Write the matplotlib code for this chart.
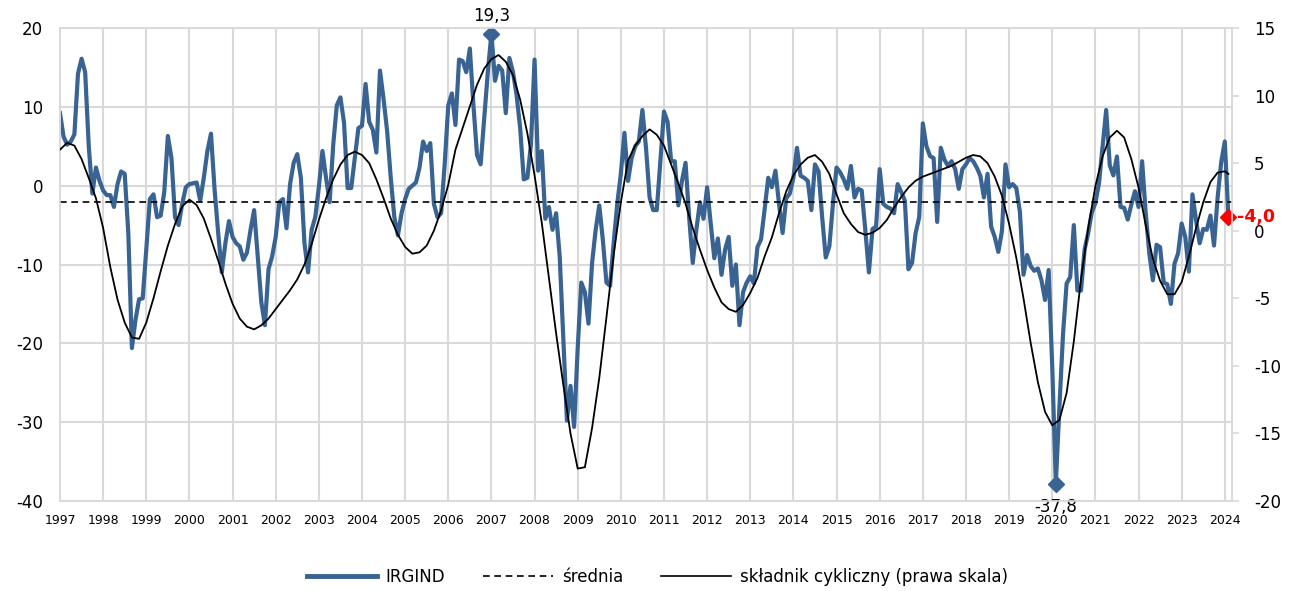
import numpy as np
import matplotlib.pyplot as plt
from matplotlib.lines import Line2D

plt.rcParams['axes.unicode_minus'] = False

# IRGIND, monthly, Jan 1997 - Feb 2024 (left axis)
irgind = [
    9.2, 6.2, 5.2, 5.6, 6.5, 14.2, 16.1, 14.4, 5.0, -1.0, 2.3, 0.6,            # 1997
    -0.6, -1.2, -1.2, -2.7, 0.2, 1.8, 1.5, -6.0, -20.6, -17.0, -14.4, -14.3,   # 1998
    -8.1, -1.7, -1.1, -4.0, -3.8, -0.8, 6.3, 3.5, -4.0, -5.0, -2.3, -0.2,      # 1999
    0.2, 0.3, 0.4, -1.9, 1.0, 4.4, 6.6, -0.5, -6.0, -11.0, -7.3, -4.5,         # 2000
    -6.5, -7.3, -7.7, -9.4, -8.5, -5.6, -3.1, -9.0, -14.8, -17.7, -10.6, -9.0, # 2001
    -6.5, -2.1, -1.7, -5.4, 0.2, 2.9, 4.0, 1.0, -7.3, -11.0, -5.6, -4.0,       # 2002
    -0.2, 4.4, 1.0, -2.1, 5.2, 10.2, 11.2, 8.0, -0.3, -0.3, 3.5, 7.3,          # 2003
    7.6, 12.9, 8.1, 7.1, 4.2, 14.6, 11.0, 6.9, 1.0, -4.0, -6.3, -3.5,          # 2004
    -1.7, -0.4, 0.0, 0.4, 2.3, 5.6, 4.4, 5.4, -2.3, -4.0, -3.5, 2.7,           # 2005
    10.2, 11.7, 7.7, 16.0, 15.8, 14.4, 17.4, 10.2, 3.9, 2.7, 8.5, 14.4,        # 2006
    19.3, 13.3, 15.2, 14.6, 9.2, 16.2, 14.4, 11.5, 7.3, 0.8, 1.0, 5.2,         # 2007
    16.0, 1.9, 4.4, -4.2, -2.7, -5.6, -3.5, -9.0, -19.5, -29.8, -25.4, -30.6,  # 2008
    -20.6, -12.3, -13.5, -17.5, -9.8, -5.6, -2.5, -6.9, -12.3, -12.7, -7.3, -2.3,  # 2009
    1.5, 6.7, 0.6, 3.5, 5.0, 5.6, 9.6, 4.8, -1.5, -3.1, -3.1, 3.1,             # 2010
    9.4, 8.1, 3.1, 3.1, -2.5, 0.6, 2.9, -4.0, -9.8, -5.6, -2.1, -4.2,          # 2011
    -0.2, -4.8, -9.2, -6.7, -11.3, -8.1, -6.5, -12.7, -10.0, -17.7, -13.5, -12.3,  # 2012
    -11.5, -12.4, -7.8, -6.8, -3.0, 1.0, -0.2, 1.9, -2.3, -6.0, -1.6, -1.0,    # 2013
    1.0, 4.8, 1.25, 1.0, 0.6, -3.1, 2.7, 1.8, -4.0, -9.1, -7.7, -2.3,          # 2014
    2.3, 1.7, 0.8, -0.4, 2.5, -1.5, -0.4, -0.6, -5.6, -11.0, -5.5, -5.2,       # 2015
    2.1, -2.3, -2.7, -2.9, -3.5, 0.2, -0.8, -1.9, -10.6, -9.8, -6.0, -4.0,     # 2016
    7.9, 5.0, 3.75, 3.5, -4.6, 4.8, 3.3, 2.5, 3.1, 2.1, -0.4, 2.1,             # 2017
    2.7, 3.5, 3.1, 2.3, 1.25, -1.5, 1.5, -5.2, -6.5, -8.4, -5.8, 2.7,          # 2018
    -0.2, 0.2, -0.3, -3.3, -11.3, -8.8, -10.2, -10.8, -10.5, -12.0, -14.5, -10.7,  # 2019
    -23.0, -37.8, -28.0, -18.8, -12.4, -11.6, -5.0, -13.3, -13.3, -8.1, -6.0, -3.4,  # 2020
    -2.2, 0.3, 5.0, 9.6, 2.6, 1.3, 3.7, -2.7, -2.8, -4.3, -2.4, -0.7,          # 2021
    -2.7, 3.1, -3.5, -8.6, -12.0, -7.5, -7.8, -12.3, -12.5, -15.0, -9.9, -8.6, # 2022
    -4.8, -6.5, -10.9, -1.1, -4.4, -7.3, -5.5, -5.6, -3.8, -7.6, -1.5, 3.0,    # 2023
    5.6, -4.0,                                                                 # 2024
]

srednia = -2.1

# cyclical component (right axis), read every second month
cykl = [
    6.0, 6.5, 6.3, 5.3, 3.9, 2.4, 0.2, -2.7, -5.1, -6.8, -7.9, -8.0, -6.8, -5.0,
    -3.0, -1.1, 0.5, 1.8, 2.3, 1.9, 0.9, -0.6, -2.2, -3.9, -5.4, -6.5, -7.1, -7.3,
    -7.0, -6.5, -5.8, -5.1, -4.4, -3.6, -2.5, -1.0, 0.8, 2.4, 3.8, 4.9, 5.6, 5.85,
    5.6, 5.0, 3.8, 2.4, 0.9, -0.3, -1.2, -1.7, -1.6, -1.1, 0.0, 1.5, 3.4,
    6.0, 7.6, 9.2, 10.8, 12.0, 12.7, 13.0, 12.5, 11.5, 9.7, 7.2, 4.1, 0.6, -3.5,
    -7.6, -11.4, -15.0, -17.6, -17.5, -14.6, -10.9, -6.4, -1.8, 2.1, 5.2, 6.3, 7.0,
    7.5, 7.1, 6.3, 4.9, 3.5, 2.0, 0.2, -1.4, -2.9, -4.2, -5.3, -5.8, -6.0, -5.5,
    -4.6, -3.5, -1.9, -0.5, 1.3, 2.9, 4.1, 4.9, 5.4, 5.6, 5.1, 4.2, 2.7,
    1.3, 0.5, -0.1, -0.3, -0.15, 0.2, 0.8, 1.7, 2.5, 3.2, 3.7, 4.0, 4.2, 4.4,
    4.6, 4.8, 5.1, 5.4, 5.6, 5.5, 5.0, 4.0, 2.6, 0.5, -2.0, -5.0, -8.3, -11.2,
    -13.4, -14.4, -14.0, -12.0, -8.2, -3.6, 0.2, 3.3, 5.5, 6.9, 7.4, 6.9, 5.3,
    3.2, 0.4, -2.1, -3.7, -4.7, -4.7, -3.8, -1.9, 0.2, 2.1, 3.6, 4.3, 4.4, 4.2,
]
cykl_months = list(range(0, 325, 2)) + [325]

years = list(range(1997, 2025))

blue = '#386393'
grid_c = '#d9d9d9'

x = np.arange(len(irgind))
y = np.array(irgind)

fig = plt.figure(figsize=(12.89, 5.91), dpi=100)
ax = fig.add_axes([60 / 1289, 1 - 501 / 591, 1172 / 1289, 473 / 591])
ax2 = ax.twinx()

ax.plot(x, y, color=blue, lw=3.0, solid_joinstyle='round', zorder=2)
ax.axhline(srednia, color='black', lw=1.2, ls=(0, (4, 2.8)), zorder=3)

# max / min markers and labels
imax = int(np.argmax(y))
imin = int(np.argmin(y))
ax.plot([imax, imin], [y[imax], y[imin]], 'D', color=blue, ms=8, zorder=4)
ax.annotate(f'{y[imax]:.1f}'.replace('.', ','), (imax, y[imax]), xytext=(0, 6),
            textcoords='offset points', ha='center', va='bottom', fontsize=12,
            annotation_clip=False)
ax.annotate(f'{y[imin]:.1f}'.replace('.', ','), (imin, y[imin]), xytext=(0, -10),
            textcoords='offset points', ha='center', va='top', fontsize=12,
            annotation_clip=False)
# last value
ax.plot(x[-1], y[-1], 'D', color='red', ms=8, zorder=6, clip_on=False)
ax.annotate(f'{y[-1]:.1f}'.replace('.', ','), (x[-1], y[-1]), xytext=(6, 0),
            textcoords='offset points', ha='left', va='center', fontsize=12.5,
            color='red', fontweight='bold', annotation_clip=False, zorder=7)

ax2.plot(cykl_months, cykl, color='black', lw=1.3, zorder=3)

ax.set_xlim(0, 326)
ax.set_ylim(-40, 20)
ax2.set_ylim(-20, 15)
ax.set_yticks(np.arange(-40, 21, 10))
ax2.set_yticks(np.arange(-20, 16, 5))
ax.set_xticks([12 * k for k in range(len(years))])
ax.set_xticklabels([str(yr) for yr in years])

ax.grid(True, color=grid_c, lw=1.5)
ax.set_axisbelow(True)
for a in (ax, ax2):
    for s in a.spines.values():
        s.set_color(grid_c)
        s.set_linewidth(1.2)
ax.tick_params(axis='x', length=0, pad=9, labelsize=9)
ax.tick_params(axis='y', length=0, pad=12, labelsize=12)
ax2.tick_params(axis='y', length=5, color=grid_c, width=1.2, pad=11, labelsize=12)

handles = [
    Line2D([], [], color=blue, lw=3.5),
    Line2D([], [], color='black', lw=1.2, ls=(0, (4, 2.8))),
    Line2D([], [], color='black', lw=1.2),
]
labels = ['IRGIND', 'średnia', 'składnik cykliczny (prawa skala)']
fig.legend(handles, labels, loc='center', bbox_to_anchor=(0.51, 0.024), ncol=3,
           frameon=False, fontsize=12, handlelength=4.2, handletextpad=0.5,
           columnspacing=2.3)

fig.savefig('out.png', dpi=100)
